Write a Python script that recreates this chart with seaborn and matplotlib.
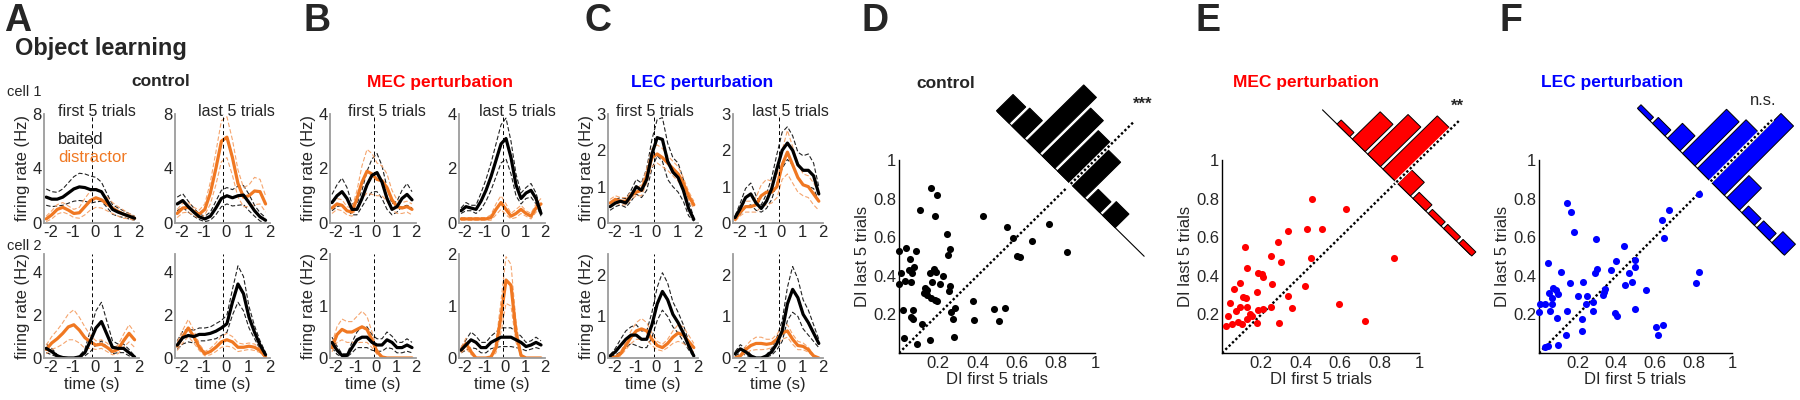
import numpy as np
import matplotlib
matplotlib.use("Agg")
import matplotlib.pyplot as plt
from matplotlib.patches import Polygon
import seaborn as sns

sns.set_style("white")
plt.rcParams["font.family"] = ["Liberation Sans", "DejaVu Sans"]
plt.rcParams["axes.unicode_minus"] = False

# ---------------- PSTH data (firing rate, Hz) ----------------
t = [-2.2, -1.95, -1.7, -1.45, -1.2, -0.95, -0.7, -0.45, -0.2, 0.05,
     0.3, 0.55, 0.8, 1.05, 1.3, 1.55, 1.8]

# A control, cell 1
A1f_b = [1.9, 1.75, 1.75, 1.9, 2.2, 2.5, 2.65, 2.6, 2.45, 2.45, 2.3, 1.65, 1.0, 0.8, 0.65, 0.5, 0.35]
A1f_b_se = [0.6, 0.55, 0.5, 0.6, 0.75, 0.9, 1.0, 1.0, 1.0, 0.9, 0.7, 0.5, 0.35, 0.3, 0.25, 0.2, 0.15]
A1f_d = [0.3, 0.6, 1.0, 1.15, 0.95, 0.7, 0.75, 1.2, 1.65, 1.85, 1.7, 1.4, 1.1, 0.85, 0.65, 0.5, 0.35]
A1f_d_se = [0.2, 0.3, 0.35, 0.35, 0.3, 0.3, 0.4, 0.6, 0.7, 0.7, 0.6, 0.5, 0.4, 0.35, 0.3, 0.2, 0.15]
A1l_b = [1.4, 1.65, 1.2, 0.8, 0.45, 0.3, 0.5, 1.1, 1.8, 2.0, 1.85, 2.0, 2.05, 1.5, 0.9, 0.45, 0.2]
A1l_b_se = [0.5, 0.5, 0.4, 0.3, 0.2, 0.2, 0.3, 0.5, 0.6, 0.6, 0.6, 0.7, 0.7, 0.6, 0.4, 0.3, 0.2]
A1l_d = [0.7, 1.1, 1.15, 0.85, 0.65, 1.0, 2.2, 4.0, 6.0, 6.3, 4.8, 2.9, 1.9, 2.0, 2.35, 2.3, 1.4]
A1l_d_se = [0.3, 0.35, 0.35, 0.3, 0.3, 0.4, 0.8, 1.2, 1.5, 1.5, 1.3, 1.0, 0.7, 0.8, 1.0, 0.9, 0.6]
# A control, cell 2
A2f_b = [0.45, 0.3, 0.1, 0.02, 0.0, 0.0, 0.05, 0.25, 0.8, 1.4, 1.7, 1.1, 0.5, 0.45, 0.45, 0.25, 0.05]
A2f_b_se = [0.2, 0.15, 0.05, 0.02, 0.0, 0.0, 0.05, 0.15, 0.5, 0.8, 0.9, 0.6, 0.3, 0.2, 0.2, 0.15, 0.05]
A2f_d = [0.4, 0.7, 0.9, 1.15, 1.45, 1.55, 1.3, 0.95, 0.75, 0.6, 0.65, 0.5, 0.3, 0.4, 0.8, 1.15, 0.85]
A2f_d_se = [0.2, 0.3, 0.4, 0.5, 0.6, 0.7, 0.6, 0.5, 0.3, 0.2, 0.2, 0.2, 0.15, 0.2, 0.3, 0.4, 0.35]
A2l_b = [0.6, 0.95, 1.05, 1.0, 1.1, 1.1, 1.15, 1.25, 1.4, 1.6, 2.6, 3.45, 3.0, 1.9, 1.2, 0.6, 0.15]
A2l_b_se = [0.2, 0.3, 0.3, 0.3, 0.3, 0.3, 0.3, 0.35, 0.35, 0.4, 0.6, 0.85, 0.8, 0.5, 0.3, 0.2, 0.1]
A2l_d = [0.55, 1.0, 1.4, 1.0, 0.5, 0.2, 0.3, 0.5, 0.75, 0.85, 0.75, 0.5, 0.5, 0.55, 0.5, 0.35, 0.05]
A2l_d_se = [0.2, 0.3, 0.4, 0.3, 0.15, 0.1, 0.15, 0.2, 0.25, 0.3, 0.25, 0.2, 0.15, 0.15, 0.15, 0.1, 0.05]

# B MEC perturbation
B1f_b = [0.75, 1.0, 1.15, 0.9, 0.5, 0.5, 0.9, 1.4, 1.75, 1.85, 1.5, 0.9, 0.5, 0.6, 0.9, 1.05, 0.85]
B1f_b_se = [0.3, 0.4, 0.5, 0.4, 0.2, 0.2, 0.3, 0.5, 0.6, 0.7, 0.6, 0.4, 0.2, 0.2, 0.3, 0.4, 0.3]
B1f_d = [0.55, 0.7, 0.65, 0.45, 0.4, 0.9, 1.5, 1.9, 1.8, 1.6, 1.55, 1.3, 0.85, 0.6, 0.55, 0.6, 0.5]
B1f_d_se = [0.2, 0.2, 0.2, 0.15, 0.15, 0.3, 0.6, 0.8, 0.75, 0.6, 0.55, 0.5, 0.35, 0.25, 0.2, 0.2, 0.2]
B1l_b = [0.45, 0.6, 0.55, 0.5, 0.8, 1.2, 1.7, 2.3, 2.9, 3.1, 2.4, 1.4, 0.9, 1.1, 1.2, 0.9, 0.35]
B1l_b_se = [0.1, 0.15, 0.1, 0.15, 0.3, 0.4, 0.5, 0.6, 0.7, 0.75, 0.6, 0.4, 0.2, 0.2, 0.25, 0.2, 0.1]
B1l_d = [0.15, 0.15, 0.15, 0.15, 0.15, 0.15, 0.2, 0.5, 0.75, 0.5, 0.25, 0.35, 0.5, 0.35, 0.25, 0.55, 0.7]
B1l_d_se = [0.05, 0.05, 0.05, 0.05, 0.05, 0.05, 0.1, 0.2, 0.25, 0.2, 0.1, 0.15, 0.15, 0.1, 0.1, 0.15, 0.2]
B2f_b = [0.3, 0.15, 0.05, 0.05, 0.2, 0.35, 0.4, 0.4, 0.3, 0.25, 0.25, 0.35, 0.3, 0.2, 0.2, 0.25, 0.2]
B2f_b_se = [0.1, 0.08, 0.03, 0.03, 0.1, 0.15, 0.2, 0.2, 0.15, 0.12, 0.12, 0.15, 0.12, 0.1, 0.1, 0.12, 0.1]
B2f_d = [0.2, 0.45, 0.55, 0.5, 0.5, 0.55, 0.6, 0.55, 0.35, 0.12, 0.02, 0, 0, 0, 0, 0, 0]
B2f_d_se = [0.08, 0.15, 0.2, 0.2, 0.2, 0.25, 0.3, 0.25, 0.15, 0.05, 0.01, 0, 0, 0, 0, 0, 0]
B2l_b = [0.15, 0.25, 0.35, 0.3, 0.2, 0.2, 0.3, 0.35, 0.4, 0.4, 0.4, 0.35, 0.3, 0.22, 0.25, 0.3, 0.25]
B2l_b_se = [0.05, 0.1, 0.15, 0.12, 0.1, 0.1, 0.12, 0.15, 0.18, 0.18, 0.18, 0.15, 0.12, 0.08, 0.08, 0.1, 0.08]
B2l_d = [0.15, 0.28, 0.12, 0.0, 0.0, 0.0, 0.02, 0.2, 0.8, 1.5, 1.4, 0.5, 0.05, 0, 0, 0, 0]
B2l_d_se = [0.05, 0.1, 0.05, 0, 0, 0, 0.01, 0.1, 0.3, 0.45, 0.4, 0.2, 0.02, 0, 0, 0, 0]

# C LEC perturbation
C1f_b = [0.45, 0.55, 0.6, 0.55, 0.75, 1.0, 0.9, 1.2, 1.9, 2.35, 2.3, 1.7, 1.4, 1.25, 0.9, 0.4, 0.1]
C1f_b_se = [0.1, 0.1, 0.1, 0.12, 0.15, 0.2, 0.2, 0.3, 0.4, 0.5, 0.6, 0.5, 0.4, 0.4, 0.3, 0.2, 0.05]
C1f_d = [0.55, 0.65, 0.6, 0.6, 0.75, 0.85, 0.9, 1.3, 1.8, 1.9, 1.8, 1.65, 1.5, 1.35, 1.1, 0.75, 0.5]
C1f_d_se = [0.1, 0.1, 0.1, 0.1, 0.1, 0.1, 0.15, 0.2, 0.25, 0.25, 0.25, 0.2, 0.2, 0.2, 0.15, 0.12, 0.1]
C1l_b = [0.15, 0.4, 0.7, 0.8, 0.55, 0.4, 0.6, 0.95, 1.5, 2.0, 2.2, 2.0, 1.6, 1.45, 1.45, 1.3, 0.8]
C1l_b_se = [0.05, 0.15, 0.25, 0.3, 0.2, 0.1, 0.2, 0.3, 0.4, 0.5, 0.45, 0.4, 0.35, 0.4, 0.45, 0.35, 0.2]
C1l_d = [0.1, 0.3, 0.45, 0.45, 0.5, 0.75, 0.85, 0.85, 1.0, 1.6, 1.95, 1.6, 1.25, 1.05, 1.0, 0.8, 0.6]
C1l_d_se = [0.05, 0.1, 0.15, 0.15, 0.2, 0.3, 0.35, 0.3, 0.3, 0.4, 0.6, 0.5, 0.4, 0.3, 0.3, 0.3, 0.25]
C2f_b = [0.05, 0.15, 0.3, 0.45, 0.55, 0.55, 0.45, 0.45, 0.8, 1.3, 1.6, 1.4, 1.05, 0.85, 0.6, 0.3, 0.05]
C2f_b_se = [0.02, 0.08, 0.15, 0.2, 0.2, 0.25, 0.2, 0.2, 0.3, 0.4, 0.45, 0.4, 0.3, 0.25, 0.2, 0.1, 0.02]
C2f_d = [0.0, 0.02, 0.1, 0.3, 0.5, 0.65, 0.7, 0.65, 0.45, 0.3, 0.25, 0.35, 0.5, 0.6, 0.55, 0.4, 0.25]
C2f_d_se = [0, 0.01, 0.05, 0.1, 0.15, 0.2, 0.25, 0.2, 0.15, 0.1, 0.08, 0.1, 0.15, 0.2, 0.2, 0.15, 0.1]
C2l_b = [0.1, 0.22, 0.15, 0.05, 0.0, 0.0, 0.05, 0.15, 0.35, 0.65, 1.3, 1.65, 1.45, 1.05, 0.85, 0.6, 0.35]
C2l_b_se = [0.05, 0.1, 0.08, 0.03, 0, 0, 0.03, 0.08, 0.15, 0.25, 0.4, 0.55, 0.45, 0.35, 0.3, 0.2, 0.1]
C2l_d = [0.0, 0.05, 0.2, 0.3, 0.35, 0.35, 0.33, 0.35, 0.45, 0.6, 0.65, 0.45, 0.3, 0.28, 0.2, 0.05, 0.0]
C2l_d_se = [0, 0.02, 0.08, 0.12, 0.15, 0.15, 0.12, 0.1, 0.12, 0.15, 0.15, 0.12, 0.1, 0.08, 0.06, 0.02, 0]

# ---------------- DI scatter data ----------------
D_first = [0.163, 0.192, 0.107, 0.184, 0.427, 0.247, 0.549, 0.767, 0.26, 0.252, 0.583, 0.68,
           0.002, 0.034, 0.087, 0.056, 0.078, 0.053, 0.068, 0.01, 0.156, 0.179, 0.189, 0.226,
           0.031, 0.06, 0.002, 0.168, 0.209, 0.26, 0.133, 0.141, 0.129, 0.141, 0.257, 0.162,
           0.184, 0.192, 0.6, 0.617, 0.855, 0.376, 0.022, 0.073, 0.06, 0.071, 0.265, 0.286,
           0.274, 0.381, 0.485, 0.541, 0.512, 0.116, 0.027, 0.158, 0.094, 0.281]
D_last = [0.853, 0.819, 0.741, 0.712, 0.71, 0.616, 0.652, 0.669, 0.538, 0.509, 0.595, 0.581,
          0.529, 0.543, 0.531, 0.486, 0.448, 0.431, 0.412, 0.414, 0.414, 0.433, 0.422, 0.397,
          0.374, 0.366, 0.359, 0.367, 0.357, 0.348, 0.336, 0.328, 0.31, 0.302, 0.319, 0.284,
          0.276, 0.271, 0.503, 0.497, 0.521, 0.267, 0.224, 0.221, 0.186, 0.174, 0.21, 0.233,
          0.176, 0.169, 0.228, 0.233, 0.164, 0.15, 0.078, 0.069, 0.047, 0.083]

E_first = [0.456, 0.63, 0.117, 0.286, 0.337, 0.43, 0.51, 0.249, 0.298, 0.129, 0.185, 0.202,
           0.207, 0.453, 0.256, 0.422, 0.871, 0.092, 0.176, 0.105, 0.12, 0.334, 0.125, 0.248,
           0.357, 0.595, 0.185, 0.207, 0.142, 0.151, 0.129, 0.176, 0.29, 0.724, 0.1,
           0.03, 0.05, 0.07, 0.04, 0.08, 0.06, 0.02, 0.09]
E_last = [0.796, 0.746, 0.548, 0.573, 0.634, 0.643, 0.643, 0.503, 0.471, 0.44, 0.416, 0.407,
          0.395, 0.49, 0.357, 0.349, 0.49, 0.364, 0.314, 0.292, 0.283, 0.297, 0.236, 0.236,
          0.231, 0.254, 0.223, 0.226, 0.202, 0.193, 0.176, 0.155, 0.155, 0.167, 0.15,
          0.19, 0.15, 0.22, 0.26, 0.16, 0.33, 0.14, 0.24]

F_first = [0.147, 0.164, 0.181, 0.295, 0.442, 0.048, 0.114, 0.399, 0.302, 0.29, 0.373, 0.497,
           0.497, 0.468, 0.161, 0.23, 0.48, 0.445, 0.071, 0.086, 0.1, 0.342, 0.338, 0.554,
           0.069, 0.204, 0.247, 0.333, 0.005, 0.031, 0.065, 0.243, 0.281, 0.057, 0.143, 0.278,
           0.497, 0.092, 0.221, 0.394, 0.406, 0.224, 0.138, 0.1, 0.031, 0.048, 0.675, 0.635,
           0.649, 0.831, 0.831, 0.812, 0.605, 0.644, 0.618, 0.0, 0.05]
F_last = [0.779, 0.732, 0.629, 0.589, 0.555, 0.468, 0.419, 0.479, 0.434, 0.413, 0.431, 0.482,
          0.444, 0.416, 0.364, 0.366, 0.366, 0.35, 0.338, 0.326, 0.306, 0.33, 0.314, 0.326,
          0.286, 0.293, 0.296, 0.303, 0.252, 0.252, 0.252, 0.252, 0.265, 0.219, 0.219, 0.219,
          0.23, 0.179, 0.176, 0.205, 0.193, 0.114, 0.093, 0.041, 0.033, 0.038, 0.741, 0.688,
          0.598, 0.825, 0.419, 0.362, 0.136, 0.145, 0.093, 0.21, 0.31]

# rotated histograms of (last - first), bins along the anti-diagonal
hist_bins = [0.49, 0.38, 0.27, 0.16, 0.05, -0.055, -0.165, -0.275, -0.385, -0.495]
D_hist = [0.12, 0.13, 0.41, 0.35, 0.295, 0.26, 0.08, 0.10, 0, 0]
E_hist = [0, 0.03, 0.20, 0.29, 0.39, 0.10, 0.045, 0.03, 0.03, 0.03]
F_hist = [0.026, 0.043, 0.11, 0.323, 0.356, 0.507, 0.162, 0.049, 0.05, 0.081]

ORANGE = "#f07822"
ORANGE_L = "#f5a56e"
GRAY = "#9c9c9c"
W, H = 1800, 400

fig = plt.figure(figsize=(18, 4), dpi=100)


def add_ax(left, top, w, h):
    return fig.add_axes([left / W, 1 - (top + h) / H, w / W, h / H])


def ftext(x, y, s, **kw):
    fig.text(x / W, 1 - y / H, s, **kw)


def psth(ax, b, b_se, d, d_se, ymax, yticks, ylab, xlab):
    b, b_se, d, d_se = map(np.array, (b, b_se, d, d_se))
    for m, se, c in [(b, b_se, "#222222"), (d, d_se, ORANGE_L)]:
        sns.lineplot(x=t, y=m + se, ax=ax, color=c, lw=0.8, linestyle=(0, (4, 2)))
        sns.lineplot(x=t, y=np.clip(m - se, 0, None), ax=ax, color=c, lw=0.8,
                     linestyle=(0, (4, 2)))
    sns.lineplot(x=t, y=d, ax=ax, color=ORANGE, lw=2.3)
    sns.lineplot(x=t, y=b, ax=ax, color="k", lw=2.3)
    ax.axvline(-0.12, color="k", lw=0.7, ls=(0, (4, 3)))
    ax.set_xlim(-2.3, 2.0)
    ax.set_ylim(0, ymax)
    ax.set_xticks([-2, -1, 0, 1, 2])
    ax.set_yticks(yticks)
    sns.despine(ax=ax)
    for s in ("left", "bottom"):
        ax.spines[s].set_color(GRAY)
        ax.spines[s].set_linewidth(1.3)
    ax.tick_params(length=2, direction="in", color=GRAY, labelsize=12, pad=1.5)
    ax.set_ylabel("firing rate (Hz)" if ylab else "", fontsize=12, labelpad=2)
    ax.set_xlabel("time (s)" if xlab else "", fontsize=12, labelpad=1.5)


# PSTH layout: (left px of first column, left px of second column, width px)
panels = [
    (44, 175, 95, [(A1f_b, A1f_b_se, A1f_d, A1f_d_se, A1l_b, A1l_b_se, A1l_d, A1l_d_se, 8, [0, 4, 8]),
                   (A2f_b, A2f_b_se, A2f_d, A2f_d_se, A2l_b, A2l_b_se, A2l_d, A2l_d_se, 4.85, [0, 2, 4])]),
    (330, 459, 86, [(B1f_b, B1f_b_se, B1f_d, B1f_d_se, B1l_b, B1l_b_se, B1l_d, B1l_d_se, 4, [0, 2, 4]),
                    (B2f_b, B2f_b_se, B2f_d, B2f_d_se, B2l_b, B2l_b_se, B2l_d, B2l_d_se, 2, [0, 1, 2])]),
    (608, 733, 90, [(C1f_b, C1f_b_se, C1f_d, C1f_d_se, C1l_b, C1l_b_se, C1l_d, C1l_d_se, 3, [0, 1, 2, 3]),
                    (C2f_b, C2f_b_se, C2f_d, C2f_d_se, C2l_b, C2l_b_se, C2l_d, C2l_d_se, 2.5, [0, 1, 2])]),
]
rows = [(114, 109), (254, 104)]
for l1, l2, w, cells in panels:
    for r, (top, h) in enumerate(rows):
        c = cells[r]
        ax = add_ax(l1, top, w, h)
        psth(ax, c[0], c[1], c[2], c[3], c[8], c[9], True, r == 1)
        ax = add_ax(l2, top, w, h)
        psth(ax, c[4], c[5], c[6], c[7], c[8], c[9], False, r == 1)


def di_panel(left, w, xs, ys, color, hist, center, diag_end, star, star_xy):
    ax = add_ax(left, 160, w, 193)
    sns.scatterplot(x=xs, y=ys, ax=ax, color=color, s=26, linewidth=0,
                    clip_on=False, zorder=3)
    ax.plot([0, diag_end], [0, diag_end], color="k", lw=1.7, ls=(0, (1, 1)), zorder=2)
    uh = np.array([-1.0, 1.0]) / np.sqrt(2)
    vh = np.array([1.0, 1.0]) / np.sqrt(2)
    c0 = np.array([center, center])
    a, b = c0 + 0.53 * uh, c0 - 0.53 * uh
    ax.plot([a[0], b[0]], [a[1], b[1]], color="k", lw=0.8, clip_on=False)
    bw = 0.092
    for u, hgt in zip(hist_bins, hist):
        if hgt <= 0:
            continue
        p0 = c0 + (u + bw / 2) * uh
        p1 = c0 + (u - bw / 2) * uh
        poly = Polygon([p0, p1, p1 + hgt * vh, p0 + hgt * vh], closed=True,
                       facecolor=color, edgecolor="k", lw=0.7, clip_on=False, zorder=4)
        ax.add_patch(poly)
    e = c0 + 0.45 * vh
    ax.plot([c0[0], e[0]], [c0[1], e[1]], color="white", lw=3.0, clip_on=False, zorder=5)
    ax.plot([c0[0], e[0]], [c0[1], e[1]], color="k", lw=1.7, ls=(0, (1, 1)),
            clip_on=False, zorder=6)
    ax.text(star_xy[0], star_xy[1], star, ha="center", va="center", fontsize=12,
            fontweight="bold" if "*" in star else "normal")
    ax.set_xlim(0, 1)
    ax.set_ylim(0, 1)
    ticks = [0.2, 0.4, 0.6, 0.8, 1]
    labs = ["0.2", "0.4", "0.6", "0.8", "1"]
    ax.set_xticks(ticks, labs)
    ax.set_yticks(ticks, labs)
    sns.despine(ax=ax)
    for s in ("left", "bottom"):
        ax.spines[s].set_color("k")
        ax.spines[s].set_linewidth(1.0)
    ax.tick_params(length=2.5, direction="in", labelsize=12, pad=2)
    ax.set_xlabel("DI first 5 trials", fontsize=12, labelpad=1)
    ax.set_ylabel("DI last 5 trials", fontsize=12, labelpad=2)


di_panel(899, 196, D_first, D_last, "black", D_hist, 0.876, 0.85, "***", (1.245, 1.29))
di_panel(1222, 197, E_first, E_last, "#ff0000", E_hist, 0.885, 0.88, "**", (1.195, 1.28))
di_panel(1539, 193, F_first, F_last, "#0000ff", F_hist, 0.889, 0.84, "n.s.", (1.16, 1.31))

# ---------------- texts ----------------
lab_font = ["Liberation Sans Narrow", "DejaVu Sans Condensed", "Liberation Sans"]
for x, s in [(4, "A"), (303, "B"), (584, "C"), (862, "D"), (1196, "E"), (1500, "F")]:
    ftext(x, 3, s, fontsize=27, fontweight="bold", family=lab_font, va="top", ha="left")

ftext(15, 49, "Object learning", fontsize=17, fontweight="bold", va="center")
ftext(161, 82, "control", fontsize=12.5, fontweight="bold", ha="center", va="center")
ftext(440, 82, "MEC perturbation", fontsize=12.5, fontweight="bold", ha="center",
      va="center", color="#ff0000")
ftext(702, 83, "LEC perturbation", fontsize=12.5, fontweight="bold", ha="center",
      va="center", color="#0000ff")
ftext(946, 83, "control", fontsize=12.5, fontweight="bold", ha="center", va="center")
ftext(1306, 83, "MEC perturbation", fontsize=12.5, fontweight="bold", ha="center",
      va="center", color="#ff0000")
ftext(1612, 83, "LEC perturbation", fontsize=12.5, fontweight="bold", ha="center",
      va="center", color="#0000ff")
ftext(7, 92, "cell 1", fontsize=10.5, va="center")
ftext(7, 246, "cell 2", fontsize=10.5, va="center")
ftext(58, 140, "baited", fontsize=12, va="center")
ftext(58, 157, "distractor", fontsize=12, va="center", color=ORANGE)

for x, s in [(97, "first 5 trials"), (236, "last 5 trials"), (387, "first 5 trials"),
             (517, "last 5 trials"), (655, "first 5 trials"), (790, "last 5 trials")]:
    ftext(x, 112, s, fontsize=11.5, ha="center", va="center")

fig.savefig("out.png", dpi=100, facecolor="white")
